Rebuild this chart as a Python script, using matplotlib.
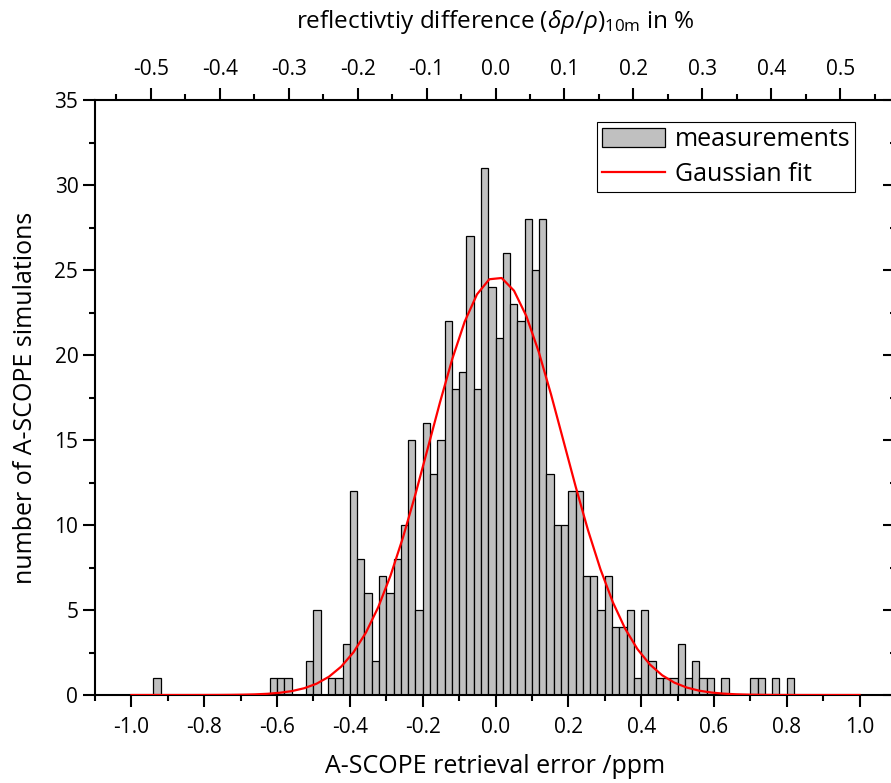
import numpy as np
import matplotlib
matplotlib.use("Agg")
import matplotlib.pyplot as plt
from matplotlib.ticker import MultipleLocator, FixedLocator

plt.rcParams['font.family'] = ['Open Sans', 'DejaVu Sans']
plt.rcParams['mathtext.fontset'] = 'custom'
plt.rcParams['mathtext.rm'] = 'Open Sans'
plt.rcParams['mathtext.it'] = 'Open Sans:italic'

# histogram bins (centre in ppm) with non-zero counts
bin_centers = [-0.93, -0.61, -0.59, -0.57, -0.51, -0.49, -0.45, -0.43, -0.41,
               -0.39, -0.37, -0.35, -0.33, -0.31, -0.29, -0.27, -0.25, -0.23,
               -0.21, -0.19, -0.17, -0.15, -0.13, -0.11, -0.09, -0.07, -0.05,
               -0.03, -0.01, 0.01, 0.03, 0.05, 0.07, 0.09, 0.11, 0.13, 0.15,
               0.17, 0.19, 0.21, 0.23, 0.25, 0.27, 0.29, 0.31, 0.33, 0.35,
               0.37, 0.39, 0.41, 0.43, 0.45, 0.47, 0.49, 0.51, 0.53, 0.55,
               0.57, 0.59, 0.63, 0.71, 0.73, 0.77, 0.81]
counts = [1, 1, 1, 1, 2, 5, 1, 1, 3,
          12, 8, 6, 2, 7, 6, 8, 10, 15,
          5, 16, 13, 15, 22, 18, 19, 27, 18,
          31, 24, 21, 26, 23, 22, 28, 25, 28, 13,
          10, 10, 12, 12, 7, 7, 5, 7, 4, 4,
          5, 1, 5, 2, 1, 1, 1, 3, 1, 2,
          1, 1, 1, 1, 1, 1, 1]
bin_width = 0.02

# Gaussian fit parameters
fit_amp = 24.6
fit_center = 0.003
fit_sigma = 0.184
fit_x = np.linspace(-1.0, 1.0, 60)
fit_y = fit_amp * np.exp(-(fit_x - fit_center) ** 2 / (2 * fit_sigma ** 2))

# conversion ppm -> reflectivity difference in %
ppm_to_pct = 0.528
top_ticks = [-0.5, -0.4, -0.3, -0.2, -0.1, 0.0, 0.1, 0.2, 0.3, 0.4, 0.5]
top_minor = [-0.55, -0.45, -0.35, -0.25, -0.15, -0.05,
             0.05, 0.15, 0.25, 0.35, 0.45, 0.55]

fig = plt.figure(figsize=(8.91, 7.83), dpi=100)
ax = fig.add_axes([95 / 891, 88 / 783, 801 / 891, 595 / 783])

bars = ax.bar(bin_centers, counts, width=bin_width, color='#c0c0c0',
              edgecolor='black', linewidth=0.9, label='measurements', zorder=2)
line, = ax.plot(fit_x, fit_y, color='red', linewidth=1.6, label='Gaussian fit',
                zorder=3)

ax.set_xlim(-1.1, 1.1)
ax.set_ylim(0, 35)
ax.xaxis.set_major_locator(MultipleLocator(0.2))
ax.xaxis.set_minor_locator(MultipleLocator(0.1))
ax.yaxis.set_major_locator(MultipleLocator(5))
ax.yaxis.set_minor_locator(MultipleLocator(2.5))
ax.xaxis.set_major_formatter(plt.FuncFormatter(lambda v, p: f"{v:.1f}"))

for s in ax.spines.values():
    s.set_linewidth(1.5)
ax.spines['top'].set_visible(False)
ax.spines['right'].set_visible(False)

ax.tick_params(axis='both', which='major', direction='out', length=8.5,
               width=1.5, labelsize=15)
ax.tick_params(axis='both', which='minor', direction='out', length=4.5,
               width=1.5)
ax.tick_params(axis='x', pad=7)

ax.set_xlabel("A-SCOPE retrieval error /ppm", fontsize=18, labelpad=12)
ax.set_ylabel("number of A-SCOPE simulations", fontsize=18, labelpad=12)

# top axis in reflectivity units
top = ax.secondary_xaxis('top', functions=(lambda x: x * ppm_to_pct,
                                           lambda x: x / ppm_to_pct))
top.xaxis.set_major_locator(FixedLocator(top_ticks))
top.xaxis.set_minor_locator(FixedLocator(top_minor))
top.xaxis.set_major_formatter(plt.FuncFormatter(lambda v, p: f"{v:.1f}"))
top.spines['top'].set_linewidth(1.5)
top.tick_params(which='major', direction='out', length=8.5, width=1.5,
                labelsize=15, pad=6)
top.tick_params(which='minor', direction='out', length=4.5, width=1.5)
top.set_xlabel(r"reflectivtiy difference $(\delta\rho/\rho)_{\mathrm{10m}}$ in %",
               fontsize=17.5, labelpad=22)

# right axis mirror with inward ticks
right = ax.secondary_yaxis('right', functions=(lambda y: y, lambda y: y))
right.yaxis.set_major_locator(MultipleLocator(5))
right.yaxis.set_minor_locator(MultipleLocator(2.5))
right.spines['right'].set_linewidth(1.5)
right.tick_params(which='major', direction='in', length=9.5, width=1.5,
                  labelright=False)
right.tick_params(which='minor', direction='in', length=4.5, width=1.5)

leg = ax.legend([bars, line], ['measurements', 'Gaussian fit'],
                loc='upper right', bbox_to_anchor=(0.949, 0.963),
                borderaxespad=0, fontsize=18, fancybox=False, framealpha=1,
                edgecolor='black', handlelength=2.5, handleheight=0.8,
                handletextpad=0.4, borderpad=0.2, labelspacing=0.4)
leg.get_frame().set_linewidth(0.8)

fig.savefig("out.png", dpi=100)
